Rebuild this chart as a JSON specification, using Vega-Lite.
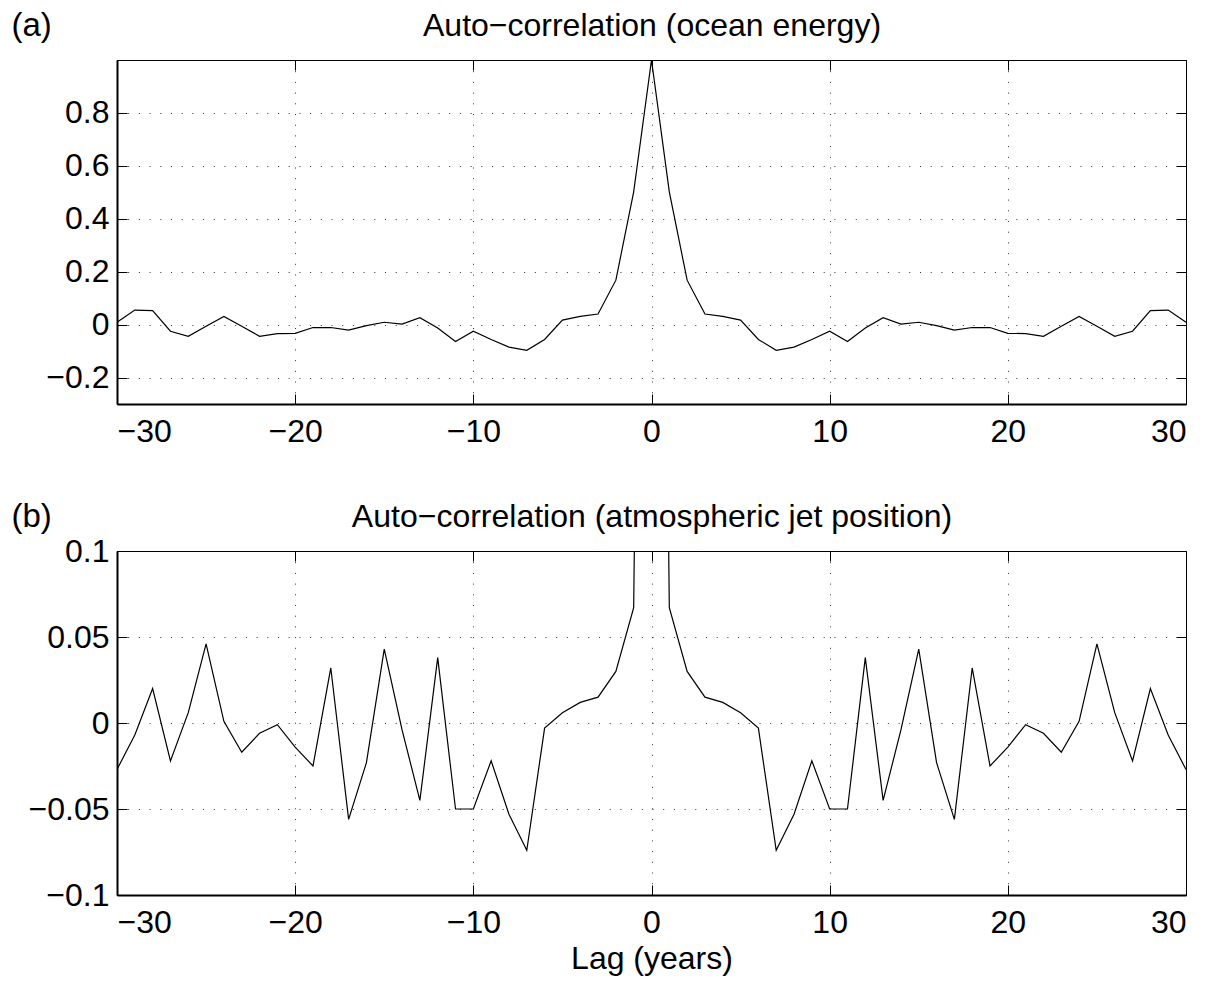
{
  "$schema": "https://vega.github.io/schema/vega-lite/v6.json",
  "background": "white",
  "padding": {"left": 10, "top": 8, "right": 5, "bottom": 5},
  "spacing": 51,
  "config": {
    "font": "Liberation Sans",
    "view": {"stroke": "black", "strokeWidth": 1},
    "axis": {
      "labelFont": "Liberation Sans", "labelFontSize": 32, "labelColor": "black",
      "titleFont": "Liberation Sans", "titleFontSize": 32, "titleFontWeight": "normal", "titleColor": "black",
      "domainColor": "black", "tickColor": "black", "gridColor": "black", "gridDash": [1, 9.7], "gridOpacity": 0.8
    }
  },
  "datasets": {
    "ocean": [
      {"lag": -30, "r": 0.009}, {"lag": -29, "r": 0.055}, {"lag": -28, "r": 0.053}, {"lag": -27, "r": -0.025},
      {"lag": -26, "r": -0.044}, {"lag": -25, "r": -0.006}, {"lag": -24, "r": 0.031}, {"lag": -23, "r": -0.006},
      {"lag": -22, "r": -0.044}, {"lag": -21, "r": -0.034}, {"lag": -20, "r": -0.033}, {"lag": -19, "r": -0.011},
      {"lag": -18, "r": -0.011}, {"lag": -17, "r": -0.021}, {"lag": -16, "r": -0.004}, {"lag": -15, "r": 0.009},
      {"lag": -14, "r": 0.002}, {"lag": -13, "r": 0.026}, {"lag": -12, "r": -0.013}, {"lag": -11, "r": -0.064},
      {"lag": -10, "r": -0.025}, {"lag": -9, "r": -0.056}, {"lag": -8, "r": -0.085}, {"lag": -7, "r": -0.097},
      {"lag": -6, "r": -0.056}, {"lag": -5, "r": 0.017}, {"lag": -4, "r": 0.031}, {"lag": -3, "r": 0.040},
      {"lag": -2, "r": 0.168}, {"lag": -1, "r": 0.502}, {"lag": 0, "r": 1.0},
      {"lag": 1, "r": 0.502}, {"lag": 2, "r": 0.168}, {"lag": 3, "r": 0.040}, {"lag": 4, "r": 0.031},
      {"lag": 5, "r": 0.017}, {"lag": 6, "r": -0.056}, {"lag": 7, "r": -0.097}, {"lag": 8, "r": -0.085},
      {"lag": 9, "r": -0.056}, {"lag": 10, "r": -0.025}, {"lag": 11, "r": -0.064}, {"lag": 12, "r": -0.013},
      {"lag": 13, "r": 0.026}, {"lag": 14, "r": 0.002}, {"lag": 15, "r": 0.009}, {"lag": 16, "r": -0.004},
      {"lag": 17, "r": -0.021}, {"lag": 18, "r": -0.011}, {"lag": 19, "r": -0.011}, {"lag": 20, "r": -0.033},
      {"lag": 21, "r": -0.034}, {"lag": 22, "r": -0.044}, {"lag": 23, "r": -0.006}, {"lag": 24, "r": 0.031},
      {"lag": 25, "r": -0.006}, {"lag": 26, "r": -0.044}, {"lag": 27, "r": -0.025}, {"lag": 28, "r": 0.053},
      {"lag": 29, "r": 0.055}, {"lag": 30, "r": 0.009}
    ],
    "jet": [
      {"lag": -30, "r": -0.027}, {"lag": -29, "r": -0.007}, {"lag": -28, "r": 0.020}, {"lag": -27, "r": -0.022},
      {"lag": -26, "r": 0.006}, {"lag": -25, "r": 0.046}, {"lag": -24, "r": 0.001}, {"lag": -23, "r": -0.017},
      {"lag": -22, "r": -0.006}, {"lag": -21, "r": -0.001}, {"lag": -20, "r": -0.014}, {"lag": -19, "r": -0.025},
      {"lag": -18, "r": 0.032}, {"lag": -17, "r": -0.056}, {"lag": -16, "r": -0.023}, {"lag": -15, "r": 0.043},
      {"lag": -14, "r": -0.004}, {"lag": -13, "r": -0.045}, {"lag": -12, "r": 0.038}, {"lag": -11, "r": -0.050},
      {"lag": -10, "r": -0.050}, {"lag": -9, "r": -0.022}, {"lag": -8, "r": -0.053}, {"lag": -7, "r": -0.074},
      {"lag": -6, "r": -0.003}, {"lag": -5, "r": 0.006}, {"lag": -4, "r": 0.012}, {"lag": -3, "r": 0.015},
      {"lag": -2, "r": 0.030}, {"lag": -1, "r": 0.067}, {"lag": 0, "r": 1.0},
      {"lag": 1, "r": 0.067}, {"lag": 2, "r": 0.030}, {"lag": 3, "r": 0.015}, {"lag": 4, "r": 0.012},
      {"lag": 5, "r": 0.006}, {"lag": 6, "r": -0.003}, {"lag": 7, "r": -0.074}, {"lag": 8, "r": -0.053},
      {"lag": 9, "r": -0.022}, {"lag": 10, "r": -0.050}, {"lag": 11, "r": -0.050}, {"lag": 12, "r": 0.038},
      {"lag": 13, "r": -0.045}, {"lag": 14, "r": -0.004}, {"lag": 15, "r": 0.043}, {"lag": 16, "r": -0.023},
      {"lag": 17, "r": -0.056}, {"lag": 18, "r": 0.032}, {"lag": 19, "r": -0.025}, {"lag": 20, "r": -0.014},
      {"lag": 21, "r": -0.001}, {"lag": 22, "r": -0.006}, {"lag": 23, "r": -0.017}, {"lag": 24, "r": 0.001},
      {"lag": 25, "r": 0.046}, {"lag": 26, "r": 0.006}, {"lag": 27, "r": -0.022}, {"lag": 28, "r": 0.020},
      {"lag": 29, "r": -0.007}, {"lag": 30, "r": -0.027}
    ]
  },
  "vconcat": [
    {
      "width": 1069, "height": 344,
      "data": {"name": "ocean"},
      "layer": [
        {
          "mark": {"type": "line", "color": "black", "strokeWidth": 1.2, "clip": true},
          "encoding": {
            "x": {"field": "lag", "type": "quantitative",
              "scale": {"domain": [-30, 30], "nice": false, "zero": false},
              "axis": {"orient": "bottom", "values": [-30, -20, -10, 0, 10, 20, 30], "format": "~r", "grid": true,
                "tickSize": -10, "labelPadding": 22, "domainWidth": 2, "title": null}},
            "y": {"field": "r", "type": "quantitative",
              "scale": {"domain": [-0.3, 1], "nice": false, "zero": false},
              "axis": {"orient": "left", "values": [-0.2, 0, 0.2, 0.4, 0.6, 0.8], "format": "~r", "grid": true,
                "tickSize": -10, "labelPadding": 18, "domainWidth": 2,
                "title": "(a)", "titleAngle": 0, "titleAlign": "left", "titleBaseline": "alphabetic",
                "titleFontSize": 33, "titleX": -106, "titleY": -25}}
          }
        },
        {
          "mark": {"type": "line", "opacity": 0},
          "encoding": {
            "x": {"field": "lag", "type": "quantitative",
              "axis": {"orient": "top", "values": [-30, -20, -10, 0, 10, 20, 30], "labels": false, "grid": false,
                "domain": false, "tickSize": -10,
                "title": "Auto−correlation (ocean energy)", "titleBaseline": "alphabetic", "titleY": -25}},
            "y": {"field": "r", "type": "quantitative",
              "axis": {"orient": "right", "values": [-0.2, 0, 0.2, 0.4, 0.6, 0.8], "labels": false, "grid": false,
                "domain": false, "tickSize": -10, "title": null}}
          }
        }
      ],
      "resolve": {"axis": {"x": "independent", "y": "independent"}}
    },
    {
      "width": 1069, "height": 344,
      "data": {"name": "jet"},
      "layer": [
        {
          "mark": {"type": "line", "color": "black", "strokeWidth": 1.2, "clip": true},
          "encoding": {
            "x": {"field": "lag", "type": "quantitative",
              "scale": {"domain": [-30, 30], "nice": false, "zero": false},
              "axis": {"orient": "bottom", "values": [-30, -20, -10, 0, 10, 20, 30], "format": "~r", "grid": true,
                "tickSize": -10, "labelPadding": 22, "domainWidth": 2, "title": "Lag (years)", "titlePadding": 5}},
            "y": {"field": "r", "type": "quantitative",
              "scale": {"domain": [-0.1, 0.1], "nice": false, "zero": false},
              "axis": {"orient": "left", "values": [-0.1, -0.05, 0, 0.05, 0.1], "format": "~r", "grid": true,
                "tickSize": -10, "labelPadding": 18, "domainWidth": 2,
                "title": "(b)", "titleAngle": 0, "titleAlign": "left", "titleBaseline": "alphabetic",
                "titleFontSize": 33, "titleX": -106, "titleY": -25}}
          }
        },
        {
          "mark": {"type": "line", "opacity": 0, "clip": true},
          "encoding": {
            "x": {"field": "lag", "type": "quantitative",
              "axis": {"orient": "top", "values": [-30, -20, -10, 0, 10, 20, 30], "labels": false, "grid": false,
                "domain": false, "tickSize": -10,
                "title": "Auto−correlation (atmospheric jet position)", "titleBaseline": "alphabetic", "titleY": -25}},
            "y": {"field": "r", "type": "quantitative",
              "axis": {"orient": "right", "values": [-0.1, -0.05, 0, 0.05, 0.1], "labels": false, "grid": false,
                "domain": false, "tickSize": -10, "title": null}}
          }
        }
      ],
      "resolve": {"axis": {"x": "independent", "y": "independent"}}
    }
  ]
}
